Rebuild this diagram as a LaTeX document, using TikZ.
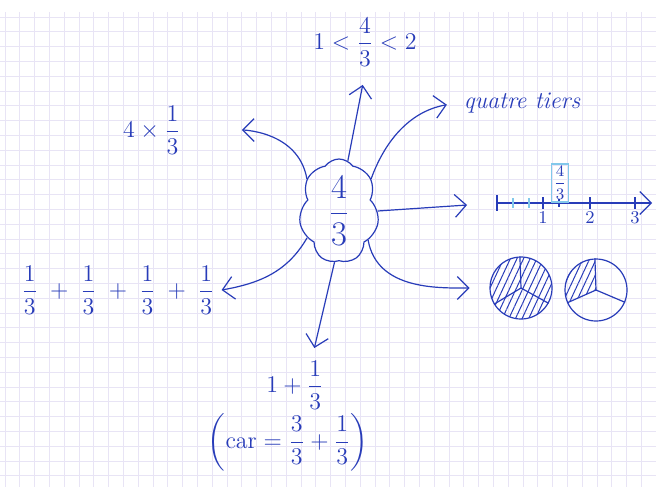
\documentclass[tikz,border=0pt]{standalone}
\usepackage{amsmath,amssymb}
\usetikzlibrary{arrows.meta,shapes.symbols,patterns.meta}
\definecolor{encre}{RGB}{40,60,185}
\definecolor{quadrillage}{RGB}{232,228,245}
\definecolor{surligne}{RGB}{130,200,235}

\begin{document}
\begin{tikzpicture}[x=0.5pt, y=-0.5pt, every node/.style={text=encre, font=\fontsize{12}{14}\selectfont}, >={Straight Barb[length=2mm]},
	trait/.style={encre, line width=0.6pt}, fleche/.style={trait, ->},
	grille/.style={quadrillage, line width=0.35pt},
	disque/.style={circle, draw=encre, line width=0.6pt, minimum size=31pt, inner sep=0pt},
	hachures/.style={pattern={Lines[angle=65,distance=3pt,line width=0.5pt]}, pattern color=encre}]
	\useasboundingbox (0,0) rectangle (656,487);
	\fill[white] (0,0) rectangle (656,487);
	\foreach \i in {0,...,43} \draw[grille] ({5+14.8*\i},12) -- ({5+14.8*\i},487);
	\foreach \j in {0,...,31} \draw[grille] (0,{17+14.8*\j}) -- (656,{17+14.8*\j});
	\node[cloud, draw=encre, line width=0.6pt, cloud puffs=7, cloud puff arc=110, cloud ignores aspect, minimum width=40pt, minimum height=52pt, inner sep=0pt, font=\fontsize{17}{20}\selectfont] (nuage) at (339,211) {$\dfrac{4}{3}$};
	\node (encadr) at (365,42) {$1<\dfrac{4}{3}<2$};
	\node (produit) at (152,130) {$4\times\dfrac{1}{3}$};
	\node[font=\fontsize{12}{14}\selectfont\itshape] (mots) at (522,103) {quatre tiers};
	\node[font=\fontsize{13}{15}\selectfont] (somme) at (118,290) {$\dfrac{1}{3}\;+\;\dfrac{1}{3}\;+\;\dfrac{1}{3}\;+\;\dfrac{1}{3}$};
	\node (mixte) at (295,385) {$1+\dfrac{1}{3}$};
	\node (car) at (288,442) {$\left(\text{car}=\dfrac{3}{3}+\dfrac{1}{3}\right)$};
	% droite graduee
	\coordinate (origine) at (497,203);
	\draw[fleche] (origine) -- (652,203);
	\draw[trait] (497,195) -- (497,211);
	\foreach \x in {513,529} \draw[surligne, line width=0.6pt] (\x,198) -- (\x,208);
	\draw[trait] (559,199) -- (559,207);
	\foreach \x/\t in {543/1,590/2,635/3} {
		\draw[trait] (\x,197) -- (\x,209);
		\node[font=\fontsize{9}{10}\selectfont] (grad\t) at (\x,218) {$\t$};
	}
	\node[draw=surligne, line width=0.8pt, inner sep=1pt, font=\fontsize{8}{9}\selectfont] (repere) at (560,183) {$\dfrac{4}{3}$};
	% disques
	\node[disque, hachures] (disqueA) at (521,288) {};
	\draw[trait] (disqueA.92) -- (disqueA.center) -- (disqueA.211) (disqueA.center) -- (disqueA.331);
	\node[disque] (disqueB) at (596,290) {};
	\fill[hachures] (disqueB.center) -- (disqueB.92) arc[start angle=92, end angle=204, radius=15.5pt] -- cycle;
	\draw[trait] (disqueB.92) -- (disqueB.center) -- (disqueB.204) (disqueB.center) -- (disqueB.337);
	% fleches
	\draw[fleche, shorten >=6pt] (nuage.80) -- (encadr.south);
	\draw[fleche, shorten >=27pt] (nuage.135) to[out=100, in=0] (produit.east);
	\draw[fleche, shorten >=5pt] (nuage.45) to[out=70, in=190] (mots.west);
	\draw[fleche, shorten >=15pt] (nuage.east) -- (origine);
	\draw[fleche, shorten >=10pt] (nuage.-45) to[out=-80, in=180] (disqueA.west);
	\draw[fleche] (nuage.220) to[out=-120, in=10] (somme.east);
	\draw[fleche, shorten >=3pt] (nuage.265) -- (mixte.60);
\end{tikzpicture}
\end{document}
